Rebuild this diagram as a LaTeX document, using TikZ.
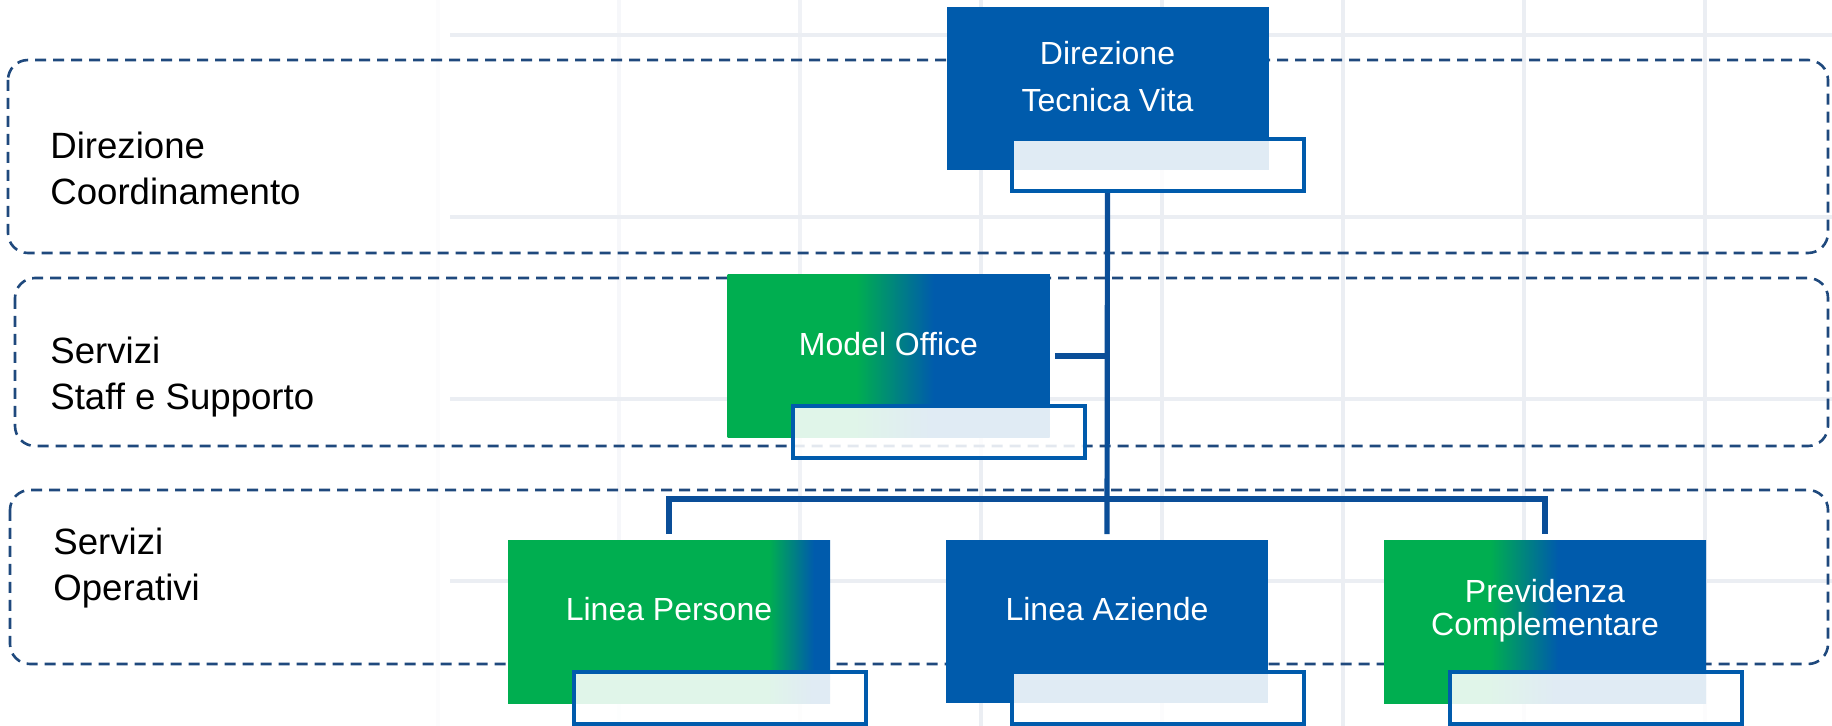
\documentclass[tikz,border=0pt]{standalone}
\usepackage{fontspec}
\setmainfont{Liberation Sans}
\usetikzlibrary{positioning}
\definecolor{vblue}{RGB}{0,91,172}
\definecolor{vgreen}{RGB}{0,174,80}
\definecolor{lblue}{RGB}{10,78,152}
\definecolor{dashc}{RGB}{31,73,125}
\definecolor{gridc}{RGB}{235,238,243}
\pgfdeclarehorizontalshading{gbmo}{100bp}{color(0bp)=(vgreen); color(45bp)=(vgreen); color(57bp)=(vblue); color(100bp)=(vblue)}
\pgfdeclarehorizontalshading{gblp}{100bp}{color(0bp)=(vgreen); color(65.5bp)=(vgreen); color(72.5bp)=(vblue); color(100bp)=(vblue)}
\pgfdeclarehorizontalshading{gbpc}{100bp}{color(0bp)=(vgreen); color(41.5bp)=(vgreen); color(52bp)=(vblue); color(100bp)=(vblue)}
\begin{document}
\begin{tikzpicture}[x=0.5pt,y=-0.5pt,
    mainbox/.style={minimum width=161pt,minimum height=81.5pt,inner sep=0pt,fill=vblue},
    subbox/.style={minimum width=146pt,minimum height=26pt,inner sep=0pt,draw=vblue,line width=2pt,fill=white,fill opacity=0.88},
    boxtext/.style={text=white,font=\fontsize{16}{23.5}\selectfont,align=center,inner sep=0pt},
    bandtext/.style={font=\fontsize{18.3}{23}\selectfont,align=left,anchor=north west,inner sep=0pt},
    band/.style={draw=dashc,line width=1.3pt,dash pattern=on 5.5pt off 3.5pt,rounded corners=10pt},
    link/.style={draw=lblue,line width=2.6pt}]
\useasboundingbox (0,0) rectangle (1832,726);
\fill[white] (0,0) rectangle (1832,726);
\foreach \x/\c in {438/15,619/45,800/75,981/100,1162/100,1343/100,1524/100,1705/100}
    \draw[gridc!\c,line width=2pt] (\x,0)--(\x,726);
\foreach \y in {35,217,399,581}
    \draw[gridc,line width=2pt] (450,\y)--(1832,\y);

\draw[band] (8,60) rectangle (1828,253);
\draw[band] (15,278) rectangle (1828,446);
\draw[band] (10,490) rectangle (1828,664);

\node[bandtext] (dc) at (50,132) {Direzione\\Coordinamento};
\node[bandtext] (ss) at (50,337) {Servizi\\Staff e Supporto};
\node[bandtext] (so) at (53,528) {Servizi\\Operativi};

\node[mainbox] (dtv) at (1107.5,89) {};
\node[mainbox,shading=gbmo] (mo) at (888.5,356) {};
\node[mainbox,shading=gblp] (lp) at (669,622) {};
\node[mainbox] (la) at (1107,622) {};
\node[mainbox,shading=gbpc] (pc) at (1545,622) {};

\node[subbox,below right=65pt and 32pt of dtv.north west] (dtv-s) {};
\node[subbox,below right=65pt and 32pt of mo.north west] (mo-s) {};
\node[subbox,below right=65pt and 32pt of lp.north west] (lp-s) {};
\node[subbox,below right=65pt and 32pt of la.north west] (la-s) {};
\node[subbox,below right=65pt and 32pt of pc.north west] (pc-s) {};

\node[boxtext] (dtv-t) at ([yshift=6pt]dtv.center) {Direzione\\Tecnica Vita};
\node[boxtext] (mo-t) at ([yshift=6pt]mo.center) {Model Office};
\node[boxtext] (lp-t) at ([yshift=6.5pt]lp.center) {Linea Persone};
\node[boxtext] (la-t) at ([yshift=6.5pt]la.center) {Linea Aziende};
\node[boxtext,font=\fontsize{16}{16.5}\selectfont] (pc-t) at ([yshift=5.5pt]pc.center) {Previdenza\\Complementare};

\coordinate (bus) at (1107,499);
\draw[link,shorten >=3pt] (dtv.center |- dtv-s.south) -- (la.north);
\draw[link,shorten <=2.5pt] (mo.east) -- (mo.east -| dtv.center);
\draw[link,shorten <=3pt,shorten >=3pt] (lp.north) -- (lp.north |- bus) -- (pc.north |- bus) -- (pc.north);
\end{tikzpicture}
\end{document}
